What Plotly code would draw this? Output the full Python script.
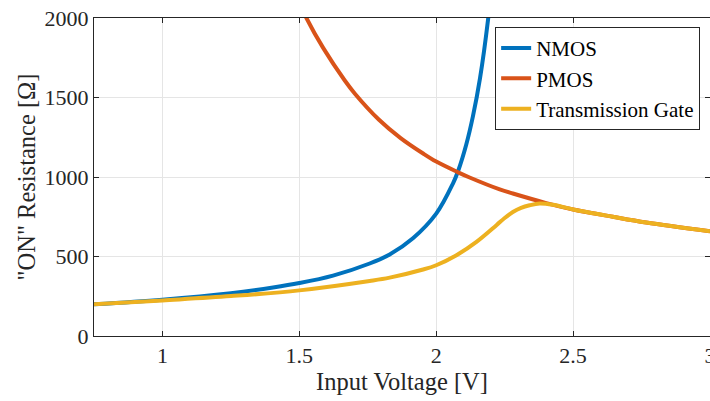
import plotly.graph_objects as go

# Data
v_nmos = [0.75, 1.0, 1.25, 1.404, 1.5, 1.623, 1.757, 1.830, 1.915, 2.0, 2.061, 2.080, 2.110, 2.134, 2.160, 2.189, 2.210]
r_nmos = [199, 228, 269, 305, 333, 380, 456, 513, 615, 770, 959, 1038, 1206, 1381, 1622, 1986, 2340]

v_pmos = [1.45, 1.526, 1.587, 1.666, 1.703, 1.790, 1.870, 1.952, 2.0, 2.078, 2.122, 2.232, 2.280, 2.402, 2.5, 2.645, 2.767, 3.0]
r_pmos = [2290, 2000, 1812, 1607, 1524, 1362, 1245, 1148, 1097, 1031, 997, 922, 896, 836, 796, 750, 714, 659]

v_tg = [0.75, 1.0, 1.25, 1.5, 1.757, 1.830, 1.952, 2.0, 2.074, 2.147, 2.220, 2.250, 2.280, 2.310, 2.341, 2.378, 2.426, 2.5, 2.645, 2.767, 3.0]
r_tg = [199, 224, 251, 287, 346, 367, 418, 445, 508, 592, 697, 742, 780, 806, 822, 833, 825, 796, 750, 714, 659]

names = ["NMOS", "PMOS", "Transmission Gate"]
colors = ["#0072BD", "#D95319", "#EDB120"]

x_ticks = [1, 1.5, 2, 2.5, 3]
x_ticklabels = ["1", "1.5", "2", "2.5", "3"]
y_ticks = [0, 500, 1000, 1500, 2000]

FONT = "Liberation Serif, Times New Roman, serif"
DARK = "#262626"
GRID = "#e5e5e5"

fig = go.Figure()
for v, r, n, c in zip([v_nmos, v_pmos, v_tg], [r_nmos, r_pmos, r_tg], names, colors):
    fig.add_trace(go.Scatter(x=v, y=r, mode="lines", name=n,
                             line=dict(color=c, width=4, shape="spline", smoothing=1.0, simplify=False)))

axis_common = dict(showline=True, linecolor=DARK, linewidth=1, mirror="allticks",
                   ticks="inside", ticklen=5, tickcolor=DARK, tickwidth=1,
                   showgrid=True, gridcolor=GRID, gridwidth=1, zeroline=False,
                   tickfont=dict(family=FONT, size=22, color=DARK),
                   ticklabeloverflow="allow")

fig.update_xaxes(range=[0.75, 3], tickvals=x_ticks, ticktext=x_ticklabels,
                 title=dict(text="Input Voltage [V]", font=dict(family=FONT, size=24.5, color=DARK), standoff=4),
                 **axis_common)
fig.update_yaxes(range=[0, 2000], tickvals=y_ticks,
                 title=dict(text="\"ON\" Resistance [Ω]", font=dict(family=FONT, size=24.5, color=DARK), standoff=2),
                 **axis_common)

fig.update_layout(
    width=710, height=401,
    margin=dict(l=94, r=0, t=18, b=65, autoexpand=False),
    paper_bgcolor="white", plot_bgcolor="white",
    font=dict(family=FONT, color=DARK),
    legend=dict(x=0.984, y=0.972, xanchor="right", yanchor="top",
                bgcolor="white", bordercolor=DARK, borderwidth=1,
                font=dict(family=FONT, size=21, color="black"),
                itemwidth=30, tracegroupgap=0),
    showlegend=True,
)

fig.write_html("out.html")
